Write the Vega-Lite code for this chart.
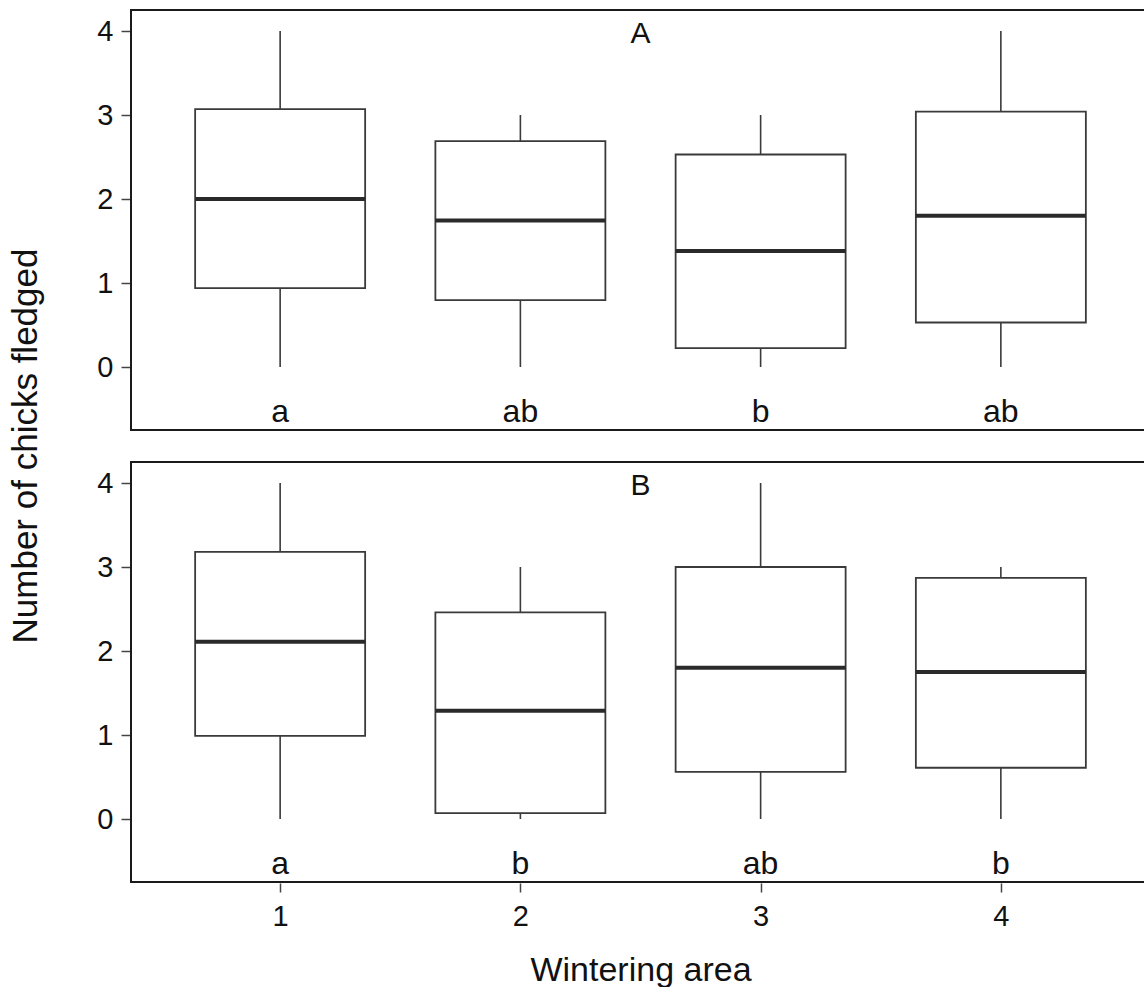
{
  "$schema": "https://vega.github.io/schema/vega-lite/v6.json",
  "padding": {"left": 8, "top": 9, "right": 0, "bottom": 0},
  "config": {
    "font": "Liberation Sans",
    "view": {"stroke": "#1a1a1a", "strokeWidth": 2},
    "axis": {"grid": false, "domain": false, "labelFont": "Liberation Sans", "labelFontSize": 29, "labelColor": "#111", "tickColor": "#444", "tickWidth": 1.5, "tickSize": 9, "labelPadding": 8}
  },
  "data": {"values": [
    {"panel": "A", "area": 1, "low": 0, "q1": 0.94, "median": 2.0, "q3": 3.07, "high": 4, "letter": "a"},
    {"panel": "A", "area": 2, "low": 0, "q1": 0.795, "median": 1.745, "q3": 2.69, "high": 3, "letter": "ab"},
    {"panel": "A", "area": 3, "low": 0, "q1": 0.225, "median": 1.38, "q3": 2.53, "high": 3, "letter": "b"},
    {"panel": "A", "area": 4, "low": 0, "q1": 0.53, "median": 1.8, "q3": 3.04, "high": 4, "letter": "ab"},
    {"panel": "B", "area": 1, "low": 0, "q1": 0.99, "median": 2.11, "q3": 3.18, "high": 4, "letter": "a"},
    {"panel": "B", "area": 2, "low": 0, "q1": 0.07, "median": 1.29, "q3": 2.46, "high": 3, "letter": "b"},
    {"panel": "B", "area": 3, "low": 0, "q1": 0.56, "median": 1.8, "q3": 3.0, "high": 4, "letter": "ab"},
    {"panel": "B", "area": 4, "low": 0, "q1": 0.61, "median": 1.75, "q3": 2.87, "high": 3, "letter": "b"}
  ]},
  "facet": {"row": {"field": "panel", "type": "nominal", "title": "Number of chicks fledged",
    "header": {"labels": false, "titleFontSize": 35, "titleFontWeight": "normal", "titleColor": "#111", "titleFont": "Liberation Sans", "titlePadding": 42}}},
  "spacing": 30,
  "spec": {
    "width": 1019,
    "height": 420,
    "layer": [
      {
        "mark": {"type": "rule", "stroke": "#3a3a3a", "strokeWidth": 1.6},
        "encoding": {
          "x": {"field": "area", "type": "quantitative", "scale": {"domain": [0.4, 4.6], "nice": false, "zero": false},
            "axis": {"values": [1, 2, 3, 4], "format": "d", "labelFontSize": 29, "labelFont": "Liberation Sans", "labelColor": "#111", "title": "Wintering area", "titleFontSize": 34, "titleFontWeight": "normal", "titleColor": "#111", "titleFont": "Liberation Sans", "labelPadding": 10, "titlePadding": 22}},
          "y": {"field": "low", "type": "quantitative", "scale": {"domain": [-0.75, 4.25], "nice": false, "zero": false},
            "axis": {"values": [0, 1, 2, 3, 4], "format": "d", "labelFontSize": 29, "labelFont": "Liberation Sans", "labelColor": "#111", "labelPadding": 8, "title": null}},
          "y2": {"field": "high"}
        }
      },
      {
        "mark": {"type": "bar", "width": 170, "fill": "white", "stroke": "#3a3a3a", "strokeWidth": 1.8},
        "encoding": {
          "x": {"field": "area", "type": "quantitative"},
          "y": {"field": "q1", "type": "quantitative"},
          "y2": {"field": "q3"}
        }
      },
      {
        "mark": {"type": "tick", "orient": "horizontal", "size": 170, "thickness": 4, "color": "#2a2a2a", "opacity": 1},
        "encoding": {
          "x": {"field": "area", "type": "quantitative"},
          "y": {"field": "median", "type": "quantitative"}
        }
      },
      {
        "mark": {"type": "text", "fontSize": 32, "baseline": "alphabetic", "align": "center", "color": "#111"},
        "encoding": {
          "x": {"field": "area", "type": "quantitative"},
          "y": {"datum": -0.66},
          "text": {"field": "letter"}
        }
      },
      {
        "transform": [{"filter": "datum.area == 1"}],
        "mark": {"type": "text", "fontSize": 30, "baseline": "middle", "align": "center", "color": "#111"},
        "encoding": {
          "x": {"datum": 2.5},
          "y": {"datum": 3.96},
          "text": {"field": "panel"}
        }
      }
    ]
  }
}
